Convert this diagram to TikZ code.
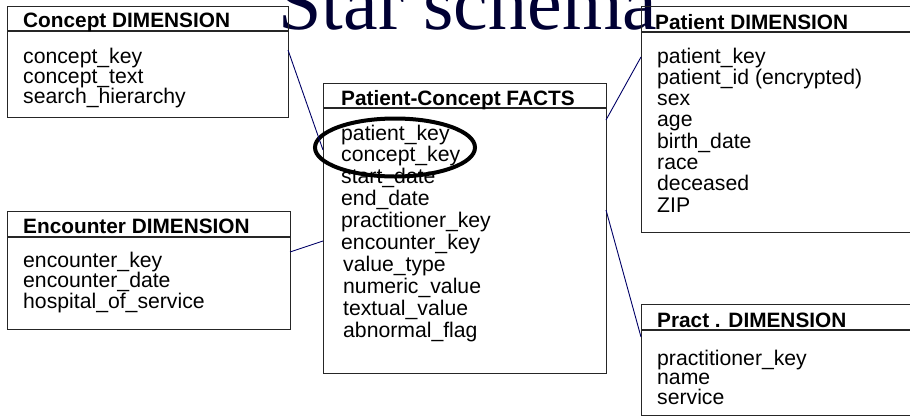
\documentclass[tikz,border=0pt]{standalone}
\usepackage{fontspec}
\setmainfont{Liberation Sans}
\newfontfamily\titlefont{Liberation Serif}
\usetikzlibrary{shapes.geometric}
\definecolor{navy}{HTML}{000033}
\definecolor{linkc}{HTML}{000066}
\newcommand\itl[2]{\vtop{\baselineskip=#1pt\lineskiplimit=-100pt\lineskip=0pt #2}}
\newcommand\rowln[1]{\hbox{#1}}
\begin{document}
\begin{tikzpicture}[x=1pt,y=-1pt,
  tbl/.style={draw=black!85,line width=1.2pt,rectangle,anchor=north west,inner sep=0pt},
  hdr/.style={anchor=base west,inner sep=0pt,font=\fontsize{20.8}{21}\selectfont\bfseries},
  items/.style={anchor=base west,inner sep=0pt,font=\fontsize{21.2}{21}\selectfont},
  link/.style={draw=linkc,line width=0.9pt}]
\useasboundingbox (0,0) rectangle (910,416);
% title
\node[anchor=base,inner sep=0pt,text=navy,font=\titlefont\fontsize{78}{78}\selectfont] (title) at (468,29.5) {Star schema};
% Concept
\node[tbl,minimum width=281pt,minimum height=111pt] (concept) at (7,6) {};
\draw[black!85,line width=1.2pt] (7,31) -- (288,31);
\node[hdr] (concepth) at (23,27) {Concept DIMENSION};
\node[items] (concepti) at (23,63) {\itl{20}{\rowln{concept\_key}\rowln{concept\_text}\rowln{search\_hierarchy}}};
% Patient
\node[tbl,minimum width=290pt,minimum height=226pt] (patient) at (641,6) {};
\draw[black!85,line width=1.2pt] (641,32) -- (931,32);
\node[hdr] (patienth) at (655,29) {Patient DIMENSION};
\node[items] (patienti) at (657,63) {\itl{21.3}{\rowln{patient\_key}\rowln{patient\_id (encrypted)}\rowln{sex}\rowln{age}\rowln{birth\_date}\rowln{race}\rowln{deceased}\rowln{ZIP}}};
% Facts
\node[tbl,minimum width=283pt,minimum height=290pt] (facts) at (323,83) {};
\draw[black!85,line width=1.2pt] (323,108) -- (606,108);
\node[hdr] (factsh) at (341,105) {Patient-Concept FACTS};
\node[items] (factsi) at (341,140) {\itl{21.9}{\rowln{patient\_key}\rowln{concept\_key}\rowln{start\_date}\rowln{end\_date}\rowln{practitioner\_key}\rowln{encounter\_key}\rowln{\hspace{2pt}value\_type}\rowln{\hspace{2pt}numeric\_value}\rowln{\hspace{2pt}textual\_value}\rowln{\hspace{2pt}abnormal\_flag}}};
% Encounter
\node[tbl,minimum width=283pt,minimum height=118pt] (enc) at (7,211) {};
\draw[black!85,line width=1.2pt] (7,237) -- (290,237);
\node[hdr] (ench) at (23,233) {Encounter DIMENSION};
\node[items] (enci) at (23,267) {\itl{20.5}{\rowln{encounter\_key}\rowln{encounter\_date}\rowln{hospital\_of\_service}}};
% Pract
\node[tbl,minimum width=290pt,minimum height=111pt] (pract) at (641,304) {};
\draw[black!85,line width=1.2pt] (641,330) -- (931,330);
\node[hdr] (practh) at (657,327) {Pract . DIMENSION};
\node[items] (practi) at (657,365) {\itl{19.5}{\rowln{practitioner\_key}\rowln{name}\rowln{service}}};
% oval
\node[draw=black,line width=4pt,ellipse,minimum width=160pt,minimum height=58pt,inner sep=0pt] (oval) at (395,147.5) {};
% connectors
\coordinate (c1) at (288,50);
\coordinate (f1) at (323,150);
\coordinate (c2) at (290,252);
\coordinate (f2) at (323,241);
\coordinate (f3) at (606,120);
\coordinate (p3) at (641,57);
\coordinate (f4) at (606,210);
\coordinate (p4) at (641,337);
\draw[link] (c1) -- (f1);
\draw[link] (c2) -- (f2);
\draw[link] (f3) -- (p3);
\draw[link] (f4) -- (p4);
\end{tikzpicture}
\end{document}
